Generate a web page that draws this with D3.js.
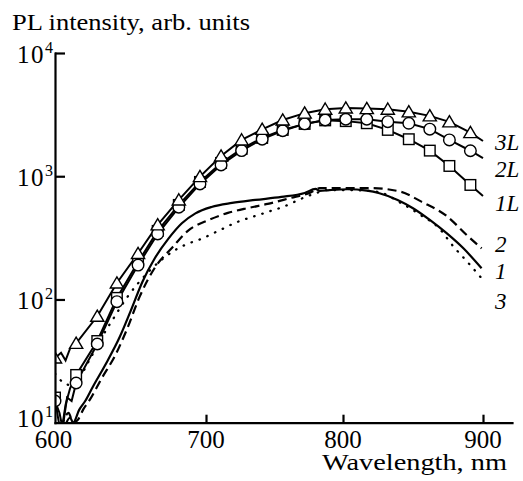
<!DOCTYPE html>
<html>
<head>
<meta charset="utf-8">
<script src="https://cdn.jsdelivr.net/npm/d3@7"></script>
<style>
body { margin: 0; background: #fff; }
</style>
</head>
<body>
<div id="chart"></div>
<script>
// wavelengths (nm) of the markers, shared by the 1L, 2L, 3L spectra
var markerNm = [600, 614, 628, 641, 655, 668, 682, 696, 711, 726, 741, 756, 772, 787, 802, 817, 832, 847, 862, 876, 891];
var marker3L = [33.5, 44, 73, 136, 236, 403, 642, 993, 1460, 1970, 2400, 2860, 3250, 3500, 3580, 3540, 3500, 3330, 3090, 2760, 2260];
var marker2L = [15, 21, 43.5, 96, 190, 340, 560, 866, 1236, 1614, 2000, 2340, 2660, 2860, 2900, 2900, 2770, 2690, 2410, 1970, 1610];
var marker1L = [16, 24.4, 46, 103, 201, 360, 585, 899, 1282, 1667, 2046, 2377, 2658, 2840, 2800, 2692, 2377, 1997, 1614, 1212, 850];
// unmarked points of the same lines: noisy start, end at 900 nm
var extra3L = [[604, 37], [607, 32], [610, 40], [900, 1930]];
var extra2L = [[603, 12], [605, 9], [608, 16], [611, 15], [900, 1400]];
var extra1L = [[602, 11], [604, 8], [607, 14], [610, 19], [900, 692]];

// spectra 1 (solid), 2 (dashed), 3 (dotted): [nm, intensity]
var curve1 = [[606, 9], [610, 11], [612, 10], [616, 12.7], [620, 15], [625, 19.5], [634, 30.5], [643, 50], [650, 80], [658, 140], [666, 215], [675, 310], [684, 415], [693, 500], [704, 563], [719, 607], [736, 642], [755, 679], [772, 732], [780, 789], [783, 760], [790, 771], [803, 784], [817, 764], [826, 728], [839, 642], [850, 550], [862, 442], [874, 345], [886, 260], [899, 179]];
var curve2 = [[604, 9], [609, 12], [612, 10], [615, 10.5], [619, 13], [623, 15.3], [631, 23], [640, 35.4], [648, 58.7], [656, 105], [666, 180], [678, 267], [688, 360], [702, 442], [716, 504], [731, 553], [745, 596], [761, 663], [776, 736], [783, 800], [803, 800], [820, 800], [841, 750], [856, 622], [874, 476], [889, 328], [899, 260]];
var curve3 = [[600, 25], [606, 21], [612, 20], [622, 31], [630, 47], [638, 68], [648, 105], [662, 168], [671, 212], [678, 245], [687, 280], [696, 307], [709, 360], [723, 426], [734, 468], [745, 513], [756, 563], [771, 667], [783, 746], [788, 771], [805, 771], [825, 746], [841, 610], [856, 480], [868, 385], [879, 268], [889, 201], [900, 144]];

var xTicks = [600, 700, 800, 900];
var yTicks = [10, 100, 1000, 10000];
var seriesLabels = ["3L", "2L", "1L", "2", "1", "3"];

var width = 523, height = 481;
var serif = "'Liberation Serif', 'Times New Roman', serif";

var svg = d3.select("#chart").append("svg")
    .attr("width", width)
    .attr("height", height)
    .style("font-family", serif);

var x = d3.scaleLinear()
    .domain([600, 700, 800, 900, 921])
    .range([55, 206, 343, 483, 512]);

var y = d3.scaleLog()
    .domain([10, 10000])
    .range([422.7, 53]);

svg.append("defs").append("clipPath")
    .attr("id", "plot")
    .append("rect")
    .attr("x", 55).attr("y", 40)
    .attr("width", 460).attr("height", 383);

function zip(nm, vals, extra) {
    var pts = nm.map(function (d, i) { return [d, vals[i]]; });
    return pts.concat(extra).sort(function (a, b) { return a[0] - b[0]; });
}

var line = d3.line()
    .x(function (d) { return x(d[0]); })
    .y(function (d) { return y(d[1]); });

var smooth = d3.line()
    .curve(d3.curveMonotoneX)
    .x(function (d) { return x(d[0]); })
    .y(function (d) { return y(d[1]); });

var plot = svg.append("g").attr("clip-path", "url(#plot)");

// spectra without markers
plot.append("path").datum(curve3)
    .attr("d", smooth)
    .attr("fill", "none").attr("stroke", "#000")
    .attr("stroke-width", 2.3)
    .attr("stroke-linecap", "round")
    .attr("stroke-dasharray", "0.5,8");
plot.append("path").datum(curve2)
    .attr("d", smooth)
    .attr("fill", "none").attr("stroke", "#000")
    .attr("stroke-width", 2.2)
    .attr("stroke-dasharray", "9,5");
plot.append("path").datum(curve1)
    .attr("d", smooth)
    .attr("fill", "none").attr("stroke", "#000")
    .attr("stroke-width", 2.2);

// lines of the marked spectra
[[marker1L, extra1L], [marker2L, extra2L], [marker3L, extra3L]].forEach(function (s) {
    plot.append("path").datum(zip(markerNm, s[0], s[1]))
        .attr("d", line)
        .attr("fill", "none").attr("stroke", "#000")
        .attr("stroke-width", 2);
});

// markers
plot.selectAll(".sq")
    .data(markerNm.map(function (d, i) { return [d, marker1L[i]]; }))
    .enter().append("rect")
    .attr("class", "sq")
    .attr("x", function (d) { return x(d[0]) - 5.3; })
    .attr("y", function (d) { return y(d[1]) - 5.3; })
    .attr("width", 10.6).attr("height", 10.6)
    .attr("fill", "#fff").attr("stroke", "#000").attr("stroke-width", 1.4);

plot.selectAll(".ci")
    .data(markerNm.map(function (d, i) { return [d, marker2L[i]]; }))
    .enter().append("circle")
    .attr("class", "ci")
    .attr("cx", function (d) { return x(d[0]); })
    .attr("cy", function (d) { return y(d[1]); })
    .attr("r", 5.8)
    .attr("fill", "#fff").attr("stroke", "#000").attr("stroke-width", 1.4);

plot.selectAll(".tr")
    .data(markerNm.map(function (d, i) { return [d, marker3L[i]]; }))
    .enter().append("path")
    .attr("class", "tr")
    .attr("d", "M0,-6.2L6.6,5L-6.6,5Z")
    .attr("transform", function (d) { return "translate(" + x(d[0]) + "," + y(d[1]) + ")"; })
    .attr("fill", "#fff").attr("stroke", "#000").attr("stroke-width", 1.4);

// axes
var xAxis = svg.append("g")
    .attr("transform", "translate(0," + y(10) + ")")
    .call(d3.axisBottom(x).tickValues([700, 800, 900]).tickSizeInner(-8).tickSizeOuter(0).tickFormat(""));
var yAxis = svg.append("g")
    .attr("transform", "translate(" + x(600) + ",0)")
    .call(d3.axisLeft(y).tickValues([100, 1000, 10000]).tickSizeInner(-10).tickSizeOuter(0).tickFormat(""));
[xAxis, yAxis].forEach(function (a) {
    a.select(".domain").attr("stroke-width", 2.2).attr("stroke-linecap", "square");
    a.selectAll(".tick line").attr("stroke-width", 2.2);
});

// tick labels
svg.selectAll(".xl")
    .data(xTicks)
    .enter().append("text")
    .attr("class", "xl")
    .attr("x", function (d, i) { return i === 0 ? x(d) - 1.5 : x(d); })
    .attr("y", 448)
    .attr("text-anchor", "middle")
    .style("font-size", "25px")
    .text(function (d) { return d; });

var yl = svg.selectAll(".yl")
    .data(yTicks)
    .enter().append("text")
    .attr("class", "yl")
    .attr("x", 53)
    .attr("y", function (d) { return Math.min(y(d) + 9.5, 427); })
    .attr("text-anchor", "end");
yl.append("tspan").style("font-size", "25px").style("letter-spacing", "1.5px").text("10");
yl.append("tspan").style("font-size", "16px").attr("dy", -10)
    .text(function (d) { return Math.round(Math.log10(d)); });

svg.append("text")
    .attr("x", 12).attr("y", 30)
    .attr("textLength", 238)
    .attr("lengthAdjust", "spacingAndGlyphs")
    .style("font-size", "24px")
    .text("PL intensity, arb. units");

svg.append("text")
    .attr("x", 322).attr("y", 470)
    .attr("textLength", 185)
    .attr("lengthAdjust", "spacingAndGlyphs")
    .style("font-size", "24px")
    .text("Wavelength, nm");

// series labels at the right ends
var labelY = [150, 177, 211, 252, 279, 309];
svg.selectAll(".sl")
    .data(seriesLabels)
    .enter().append("text")
    .attr("class", "sl")
    .attr("x", 495)
    .attr("y", function (d, i) { return labelY[i]; })
    .style("font-size", "23px")
    .style("font-style", "italic")
    .text(function (d) { return d; });
</script>
</body>
</html>
